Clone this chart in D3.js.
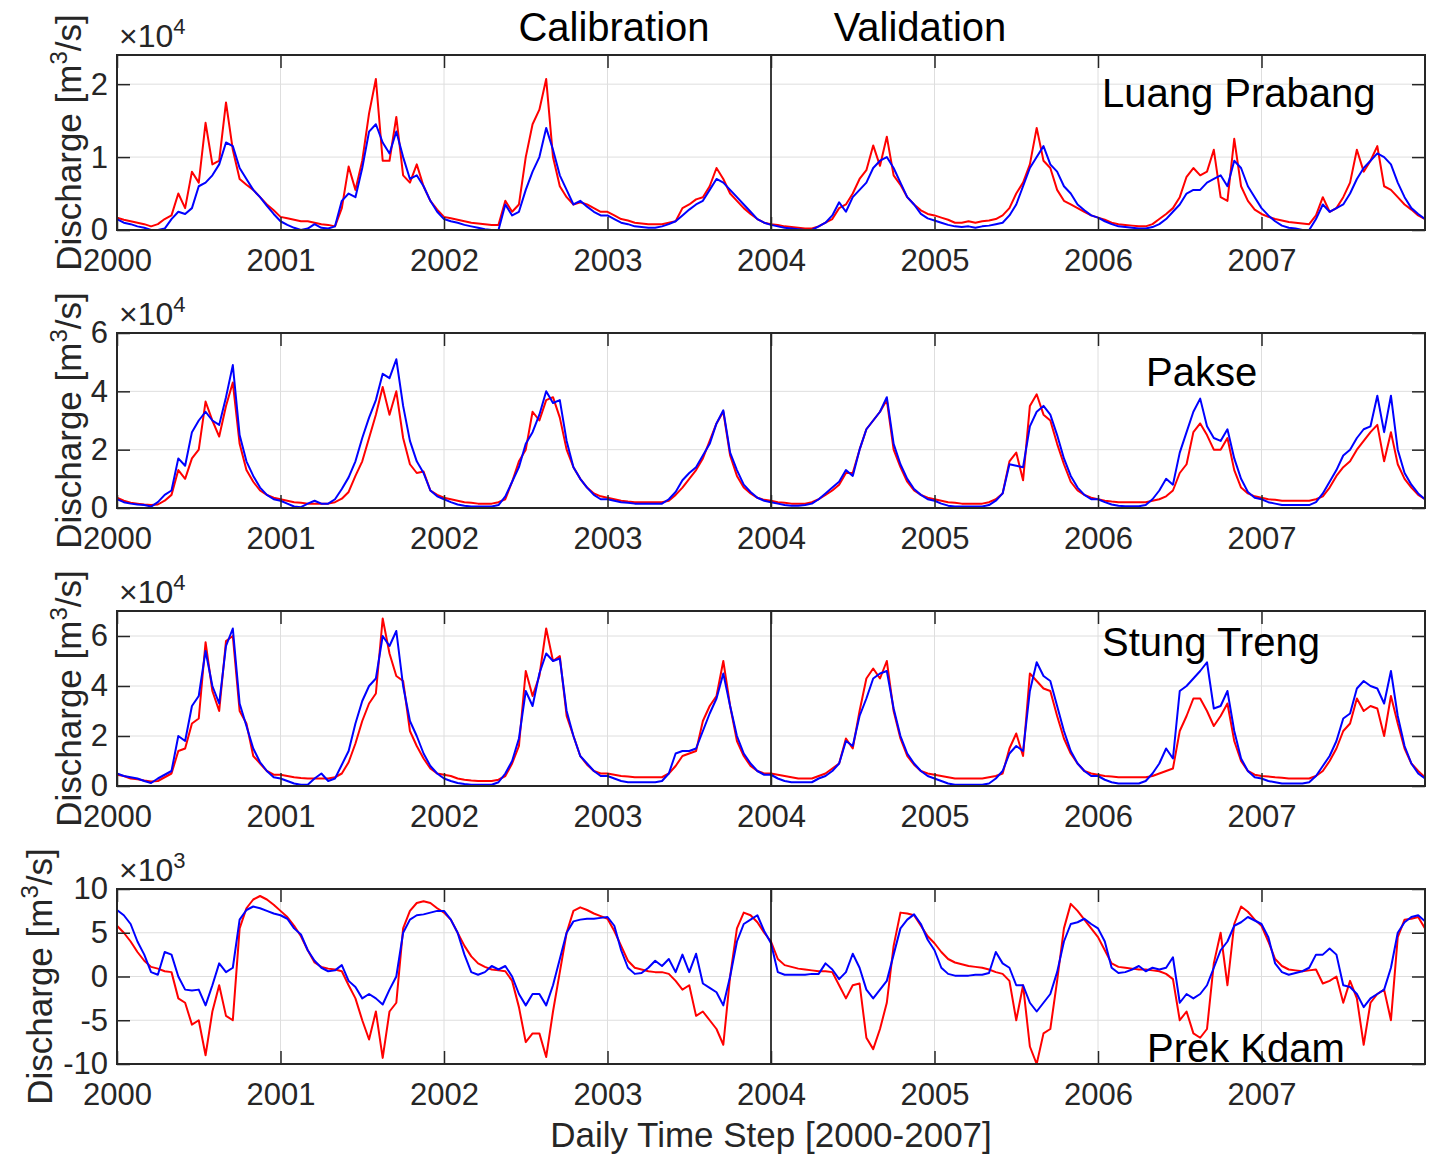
<!DOCTYPE html>
<html><head><meta charset="utf-8">
<script src="https://cdn.jsdelivr.net/npm/d3@7"></script>
<style>
html,body{margin:0;padding:0;background:#fff;}
svg{display:block;font-family:"Liberation Sans",Arial,Helvetica,sans-serif;}
</style></head><body>
<svg id="chart" width="1434" height="1154"></svg>
<script>
// ---------------- DATA ----------------
const years = [2000, 2001, 2002, 2003, 2004, 2005, 2006, 2007];
const stepsPerYear = 24; // semi-monthly samples
const stations = ["Luang Prabang", "Pakse", "Stung Treng", "Prek Kdam"];
const exponents = [4, 4, 4, 3];
const yTicks = [[0, 1, 2], [0, 2, 4, 6], [0, 2, 4, 6], [-10, -5, 0, 5, 10]];
const yDomains = [[0, 2.4], [0, 6], [0, 7], [-10, 10]];
const periodLabels = ["Calibration", "Validation"];
const splitYear = 2004;
const xAxisTitle = "Daily Time Step [2000-2007]";

// Luang Prabang (x10^4 m3/s)
const luangRed = [
0.17,0.14,0.12,0.10,0.08,0.05,0.08,0.15,0.20,0.50,0.30,0.80,0.65,1.47,0.90,0.95,1.75,1.10,0.70,0.62,0.55,0.45,0.35,0.27,
0.18,0.16,0.14,0.12,0.12,0.10,0.08,0.07,0.05,0.30,0.87,0.55,0.95,1.60,2.07,0.95,0.95,1.55,0.75,0.65,0.90,0.60,0.40,0.28,
0.18,0.16,0.14,0.12,0.10,0.09,0.08,0.07,0.07,0.40,0.25,0.35,1.00,1.45,1.65,2.07,1.00,0.60,0.45,0.35,0.38,0.35,0.30,0.25,
0.25,0.20,0.15,0.13,0.10,0.09,0.08,0.08,0.08,0.10,0.12,0.30,0.35,0.42,0.45,0.60,0.85,0.70,0.50,0.40,0.30,0.22,0.15,0.10,
0.08,0.07,0.05,0.04,0.03,0.02,0.02,0.05,0.10,0.15,0.30,0.35,0.50,0.70,0.82,1.16,0.88,1.28,0.75,0.62,0.45,0.35,0.27,0.22,
0.20,0.17,0.14,0.10,0.10,0.12,0.10,0.12,0.13,0.15,0.20,0.30,0.50,0.65,0.90,1.40,0.95,0.85,0.55,0.40,0.35,0.30,0.25,0.20,
0.17,0.14,0.10,0.08,0.07,0.06,0.05,0.05,0.08,0.15,0.22,0.30,0.45,0.73,0.85,0.75,0.80,1.10,0.45,0.40,1.25,0.60,0.40,0.28,
0.22,0.18,0.15,0.13,0.11,0.10,0.09,0.08,0.20,0.45,0.25,0.30,0.45,0.65,1.10,0.80,0.95,1.15,0.60,0.55,0.45,0.35,0.28,0.20,
0.15];
const luangBlue = [
0.15,0.10,0.08,0.05,0.03,0.00,0.00,0.02,0.15,0.25,0.22,0.30,0.60,0.65,0.75,0.90,1.20,1.15,0.85,0.70,0.55,0.45,0.33,0.22,
0.12,0.07,0.03,0.00,0.02,0.08,0.03,0.02,0.05,0.40,0.50,0.45,0.85,1.35,1.45,1.20,1.05,1.35,1.00,0.70,0.75,0.60,0.40,0.25,
0.15,0.12,0.10,0.07,0.05,0.03,0.01,0.00,0.00,0.35,0.20,0.25,0.55,0.80,1.00,1.40,1.10,0.75,0.55,0.35,0.40,0.32,0.25,0.20,
0.20,0.15,0.10,0.08,0.05,0.04,0.03,0.03,0.05,0.08,0.12,0.20,0.28,0.35,0.40,0.55,0.70,0.65,0.55,0.45,0.35,0.25,0.15,0.10,
0.07,0.05,0.03,0.02,0.01,0.00,0.00,0.05,0.10,0.20,0.38,0.25,0.45,0.55,0.65,0.85,0.95,1.00,0.85,0.65,0.45,0.35,0.22,0.16,
0.13,0.10,0.07,0.05,0.04,0.05,0.03,0.05,0.06,0.08,0.10,0.20,0.35,0.60,0.85,1.00,1.15,0.90,0.80,0.60,0.50,0.35,0.27,0.20,
0.17,0.12,0.08,0.05,0.04,0.03,0.02,0.02,0.04,0.08,0.15,0.25,0.35,0.50,0.55,0.55,0.65,0.70,0.75,0.60,0.95,0.85,0.60,0.45,
0.30,0.20,0.12,0.06,0.03,0.02,0.00,0.00,0.15,0.35,0.25,0.30,0.35,0.50,0.70,0.85,0.95,1.05,1.00,0.90,0.65,0.45,0.30,0.22,
0.15];

// Pakse (x10^4 m3/s)
const pakseRed = [
0.35,0.25,0.18,0.15,0.12,0.10,0.12,0.25,0.45,1.30,1.00,1.70,2.00,3.65,3.00,2.45,3.50,4.30,2.20,1.30,0.90,0.60,0.45,0.35,
0.30,0.25,0.20,0.18,0.15,0.15,0.15,0.15,0.20,0.32,0.55,1.10,1.60,2.40,3.20,4.15,3.20,4.00,2.40,1.50,1.20,1.25,0.60,0.45,
0.35,0.30,0.25,0.20,0.18,0.15,0.15,0.15,0.20,0.30,0.90,1.60,2.00,3.30,3.00,3.70,3.80,3.10,2.00,1.40,1.00,0.70,0.50,0.40,
0.35,0.30,0.25,0.22,0.20,0.20,0.20,0.20,0.20,0.25,0.45,0.70,1.00,1.30,1.70,2.30,2.90,3.30,1.80,1.10,0.70,0.50,0.35,0.28,
0.25,0.20,0.18,0.15,0.15,0.15,0.20,0.30,0.45,0.60,0.80,1.20,1.20,2.00,2.70,3.00,3.30,3.70,2.00,1.40,0.90,0.60,0.45,0.35,
0.30,0.25,0.20,0.18,0.15,0.15,0.15,0.15,0.20,0.30,0.50,1.60,1.90,0.95,3.50,3.90,3.20,3.00,2.20,1.50,0.90,0.60,0.45,0.35,
0.30,0.25,0.22,0.20,0.20,0.20,0.20,0.20,0.25,0.30,0.40,0.60,1.20,1.50,2.60,2.90,2.50,2.00,2.00,2.40,1.30,0.70,0.50,0.40,
0.35,0.30,0.28,0.25,0.25,0.25,0.25,0.25,0.30,0.40,0.70,1.10,1.40,1.60,2.00,2.30,2.60,2.85,1.60,2.60,1.50,1.00,0.70,0.45,
0.30];
const pakseBlue = [
0.30,0.20,0.15,0.12,0.10,0.05,0.20,0.45,0.60,1.70,1.45,2.60,3.00,3.30,3.00,2.85,3.80,4.90,2.50,1.60,1.10,0.70,0.45,0.30,
0.25,0.15,0.05,0.03,0.15,0.25,0.15,0.15,0.30,0.65,1.05,1.60,2.40,3.10,3.70,4.60,4.45,5.10,3.50,2.30,1.60,1.20,0.60,0.40,
0.30,0.20,0.12,0.08,0.05,0.05,0.05,0.05,0.10,0.40,0.90,1.40,2.20,2.60,3.20,4.00,3.60,3.70,2.30,1.40,1.00,0.70,0.45,0.30,
0.30,0.25,0.20,0.18,0.15,0.15,0.15,0.15,0.15,0.30,0.55,0.95,1.20,1.40,1.80,2.20,2.90,3.35,1.90,1.30,0.80,0.55,0.35,0.25,
0.20,0.15,0.10,0.08,0.08,0.10,0.15,0.30,0.50,0.70,0.90,1.30,1.10,2.00,2.70,3.00,3.30,3.80,2.20,1.50,1.00,0.65,0.45,0.30,
0.25,0.15,0.08,0.05,0.05,0.05,0.05,0.05,0.10,0.25,0.50,1.50,1.45,1.40,2.80,3.30,3.50,3.20,2.50,1.70,1.10,0.70,0.45,0.30,
0.30,0.20,0.12,0.08,0.06,0.06,0.06,0.10,0.30,0.60,1.00,0.80,1.90,2.60,3.30,3.75,2.80,2.40,2.30,2.70,1.70,1.00,0.55,0.35,
0.30,0.20,0.15,0.10,0.10,0.10,0.10,0.10,0.20,0.50,0.90,1.30,1.80,2.00,2.40,2.70,2.80,3.85,2.60,3.85,2.00,1.20,0.80,0.50,
0.30];

// Stung Treng (x10^4 m3/s)
const stungRed = [
0.45,0.40,0.30,0.27,0.22,0.18,0.20,0.35,0.50,1.40,1.50,2.50,2.70,5.75,3.80,3.00,5.80,6.00,3.00,2.50,1.20,0.90,0.60,0.45,
0.45,0.40,0.35,0.32,0.30,0.30,0.30,0.30,0.35,0.50,0.95,1.70,2.60,3.30,3.70,6.70,5.30,4.40,4.20,2.20,1.60,1.10,0.70,0.50,
0.45,0.40,0.30,0.25,0.22,0.20,0.20,0.20,0.25,0.40,0.90,1.60,4.60,3.60,4.40,6.30,5.00,5.20,2.80,2.00,1.20,0.85,0.60,0.50,
0.50,0.45,0.40,0.38,0.35,0.35,0.35,0.35,0.35,0.50,0.80,1.20,1.30,1.40,2.60,3.20,3.60,5.00,3.20,1.80,1.20,0.80,0.60,0.50,
0.50,0.45,0.40,0.35,0.30,0.30,0.30,0.40,0.50,0.70,0.90,1.90,1.50,3.00,4.30,4.70,4.30,5.00,3.00,1.90,1.20,0.85,0.60,0.50,
0.45,0.40,0.35,0.30,0.30,0.30,0.30,0.30,0.35,0.40,0.50,1.50,2.10,1.20,4.50,4.20,3.90,3.80,2.80,1.90,1.30,0.90,0.60,0.50,
0.45,0.40,0.38,0.35,0.35,0.35,0.35,0.35,0.40,0.50,0.60,0.70,2.20,2.80,3.50,3.50,3.00,2.40,2.80,3.30,1.80,1.00,0.60,0.45,
0.40,0.38,0.35,0.33,0.30,0.30,0.30,0.30,0.40,0.60,1.00,1.50,2.20,2.50,3.50,3.00,3.20,3.10,2.00,3.60,2.50,1.50,0.90,0.60,
0.35];
const stungBlue = [
0.50,0.40,0.35,0.30,0.20,0.12,0.30,0.45,0.60,2.00,1.80,3.20,3.60,5.40,4.00,3.30,5.60,6.30,3.30,2.40,1.50,0.95,0.60,0.35,
0.30,0.20,0.10,0.05,0.05,0.30,0.50,0.20,0.30,0.85,1.40,2.50,3.40,4.00,4.30,6.00,5.60,6.20,4.00,2.60,2.00,1.30,0.80,0.50,
0.30,0.20,0.12,0.08,0.05,0.05,0.05,0.05,0.15,0.50,1.00,1.90,3.80,3.20,4.50,5.30,5.00,5.10,3.00,2.00,1.20,0.90,0.60,0.40,
0.40,0.30,0.20,0.15,0.15,0.15,0.15,0.15,0.20,0.50,1.30,1.40,1.40,1.50,2.20,2.90,3.50,4.50,3.20,2.00,1.30,0.90,0.60,0.45,
0.45,0.30,0.20,0.15,0.15,0.15,0.15,0.30,0.40,0.60,0.90,1.80,1.60,2.80,3.50,4.30,4.50,4.60,3.10,2.00,1.30,0.90,0.60,0.40,
0.30,0.20,0.10,0.05,0.05,0.05,0.05,0.05,0.10,0.30,0.60,1.30,1.60,1.40,3.80,4.95,4.40,4.20,3.20,2.20,1.40,0.90,0.60,0.40,
0.40,0.25,0.15,0.10,0.10,0.10,0.10,0.20,0.50,0.90,1.50,1.10,3.80,4.00,4.30,4.60,4.95,3.10,3.20,3.80,2.20,1.10,0.60,0.35,
0.30,0.20,0.15,0.10,0.10,0.10,0.10,0.15,0.40,0.80,1.20,1.80,2.70,2.90,3.90,4.20,4.00,3.90,3.30,4.60,2.80,1.60,0.90,0.50,
0.30];

// Prek Kdam (x10^3 m3/s)
const prekRed = [
5.8,5.0,4.0,2.8,1.8,1.1,0.9,0.6,0.5,-2.5,-3.0,-5.5,-5.0,-9.0,-4.0,-1.0,-4.5,-5.0,5.5,7.8,8.8,9.2,8.8,8.2,
7.5,6.8,5.8,4.6,3.0,1.6,1.1,0.9,0.8,0.6,-1.0,-2.5,-5.0,-7.2,-4.0,-9.3,-4.0,-3.0,5.5,7.5,8.4,8.6,8.4,7.8,
7.3,6.5,5.0,3.5,2.3,1.5,1.1,0.8,0.7,0.6,-0.5,-3.5,-7.5,-6.5,-6.5,-9.2,-4.0,0.5,5.0,7.5,7.9,7.6,7.2,6.9,
6.6,5.2,3.5,1.8,1.0,0.8,0.6,0.5,0.5,0.3,-0.5,-1.5,-1.0,-4.5,-4.0,-5.0,-6.0,-7.8,0.0,5.5,7.3,7.0,6.2,5.0,
4.0,2.0,1.3,1.1,0.9,0.8,0.7,0.6,0.6,0.5,-1.0,-2.5,-1.0,-0.8,-7.0,-8.3,-6.0,-3.0,3.5,7.3,7.2,7.0,5.8,4.6,
3.8,2.8,2.0,1.6,1.4,1.2,1.1,1.0,0.8,0.5,0.3,-0.5,-5.0,-1.0,-8.0,-10.0,-6.5,-6.0,-0.5,5.5,8.3,7.5,6.5,5.5,
4.5,3.0,1.5,1.1,1.0,0.9,0.8,0.8,0.7,0.6,0.3,-0.3,-5.0,-4.0,-6.5,-7.0,-6.0,1.5,5.0,-1.0,6.0,8.0,7.4,6.5,
5.8,4.0,2.0,1.2,0.8,0.7,0.6,0.7,0.8,-0.8,-0.5,0.0,-3.0,-0.5,-2.5,-7.8,-3.0,-2.0,-1.5,-5.0,4.5,6.5,6.6,6.8,
5.5];
const prekBlue = [
7.6,7.0,6.0,4.0,2.5,0.5,0.2,2.8,2.5,0.0,-1.5,-1.6,-1.5,-3.3,-1.0,1.5,0.5,1.0,6.5,7.6,8.0,7.8,7.5,7.2,
7.0,6.6,5.5,4.8,3.0,1.8,1.0,0.6,0.7,1.3,-0.5,-1.2,-2.5,-2.0,-2.5,-3.2,-1.5,0.0,5.0,6.5,7.0,7.1,7.3,7.5,
7.5,6.5,5.0,2.5,0.5,0.2,0.5,1.2,0.8,1.2,0.0,-2.0,-3.3,-2.0,-2.0,-3.3,-1.0,2.0,5.0,6.3,6.5,6.6,6.6,6.7,
6.8,5.8,3.0,1.0,0.3,0.4,1.0,1.8,1.2,2.0,0.5,2.5,0.5,2.6,-0.8,-1.3,-1.8,-3.3,0.0,4.0,6.0,6.5,7.0,5.2,
3.8,0.5,0.2,0.2,0.2,0.2,0.3,0.3,1.5,0.8,-0.3,0.5,2.6,1.0,-1.5,-2.5,-1.5,-0.5,2.5,5.5,6.5,7.1,6.0,4.2,
3.0,1.0,0.3,0.1,0.1,0.1,0.2,0.2,0.4,2.8,1.5,1.0,-1.0,-1.0,-3.0,-4.0,-3.0,-2.0,0.5,4.0,6.0,6.2,6.6,6.0,
5.5,4.0,1.0,0.4,0.5,0.8,1.2,0.6,1.0,0.8,1.0,2.2,-3.0,-2.0,-2.5,-2.0,-1.0,1.0,3.0,4.0,5.8,6.2,6.8,6.4,
6.0,4.5,1.5,0.5,0.2,0.4,0.6,1.0,2.5,2.5,3.2,2.5,-1.0,-1.2,-2.0,-3.5,-2.5,-2.0,-1.5,1.0,5.0,6.2,6.8,7.0,
6.3];

const redSeries = [luangRed, pakseRed, stungRed, prekRed];
const blueSeries = [luangBlue, pakseBlue, stungBlue, prekBlue];

// ---------------- LAYOUT ----------------
const plotLeft = 117, plotRight = 1425;
const firstTop = 55, panelStep = 278, panelH = 175;
const tickLen = 13;
const textColor = "#262626";
const labelPos = [
  {x: 1102, y: 107}, {x: 1146, y: 386}, {x: 1102, y: 656}, {x: 1147, y: 1062}
];
const yLabelX = [81, 81, 81, 52];

const svg = d3.select("#chart");
const x = d3.scaleLinear().domain([years[0], years[years.length - 1] + 1]).range([plotLeft, plotRight]);
const nPts = luangRed.length;
const dates = d3.range(nPts).map(i => years[0] + i / stepsPerYear);

stations.forEach((name, p) => {
  const top = firstTop + p * panelStep, bottom = top + panelH;
  const y = d3.scaleLinear().domain(yDomains[p]).range([bottom, top]);
  const g = svg.append("g");

  // grid
  g.append("g").selectAll("line").data(years.slice(1)).join("line")
    .attr("x1", d => x(d)).attr("x2", d => x(d)).attr("y1", top).attr("y2", bottom)
    .attr("stroke", "#dedede").attr("stroke-width", 1);
  g.append("g").selectAll("line").data(yTicks[p].filter(t => t > yDomains[p][0] && t < yDomains[p][1])).join("line")
    .attr("x1", plotLeft).attr("x2", plotRight).attr("y1", d => y(d)).attr("y2", d => y(d))
    .attr("stroke", "#dedede").attr("stroke-width", 1);

  // clip
  const cid = "clip" + p;
  svg.append("clipPath").attr("id", cid).append("rect")
    .attr("x", plotLeft).attr("y", top).attr("width", plotRight - plotLeft).attr("height", panelH);

  const line = d3.line().x((d, i) => x(dates[i])).y(d => y(d));
  const lg = g.append("g").attr("clip-path", `url(#${cid})`);
  lg.append("path").datum(redSeries[p]).attr("d", line)
    .attr("fill", "none").attr("stroke", "#ff0000").attr("stroke-width", 2).attr("stroke-linejoin", "round");
  lg.append("path").datum(blueSeries[p]).attr("d", line)
    .attr("fill", "none").attr("stroke", "#0000ff").attr("stroke-width", 2).attr("stroke-linejoin", "round");

  // split line
  g.append("line").attr("x1", x(splitYear)).attr("x2", x(splitYear)).attr("y1", top).attr("y2", bottom)
    .attr("stroke", "#000").attr("stroke-width", 1.5);

  // axes
  const fmtYear = d3.format("d");
  const axB = g.append("g").attr("transform", `translate(0,${bottom})`)
    .call(d3.axisBottom(x).tickValues(years).tickFormat(fmtYear).tickSizeInner(-tickLen).tickSizeOuter(0).tickPadding(19));
  const axT = g.append("g").attr("transform", `translate(0,${top})`)
    .call(d3.axisTop(x).tickValues(years).tickFormat("").tickSizeInner(-tickLen).tickSizeOuter(0));
  const axL = g.append("g").attr("transform", `translate(${plotLeft},0)`)
    .call(d3.axisLeft(y).tickValues(yTicks[p]).tickFormat(d => String(d)).tickSizeInner(-tickLen).tickSizeOuter(0).tickPadding(9));
  const axR = g.append("g").attr("transform", `translate(${plotRight},0)`)
    .call(d3.axisRight(y).tickValues(yTicks[p]).tickFormat("").tickSizeInner(-tickLen).tickSizeOuter(0));
  [axB, axT, axL, axR].forEach(a => {
    a.select(".domain").remove();
    a.selectAll(".tick line").attr("stroke", textColor).attr("stroke-width", 1.5);
    a.selectAll(".tick text").attr("fill", textColor).style("font-size", "31px")
      .style("font-family", '"Liberation Sans",Arial,Helvetica,sans-serif');
  });

  // frame
  g.append("rect").attr("x", plotLeft).attr("y", top).attr("width", plotRight - plotLeft).attr("height", panelH)
    .attr("fill", "none").attr("stroke", textColor).attr("stroke-width", 2);

  // exponent
  const ex = g.append("text").attr("x", plotLeft + 2).attr("y", top - 8).attr("fill", textColor)
    .style("font-size", "32px");
  ex.append("tspan").text("\u00d710");
  ex.append("tspan").attr("dy", -13).style("font-size", "22px").text(exponents[p]);

  // y label
  const yl = g.append("text").attr("transform", `translate(${yLabelX[p]},${(top + bottom) / 2}) rotate(-90)`)
    .attr("text-anchor", "middle").attr("fill", textColor).style("font-size", "35px");
  yl.append("tspan").text("Discharge [m");
  yl.append("tspan").attr("dy", -14).style("font-size", "24px").text("3");
  yl.append("tspan").attr("dy", 14).text("/s]");

  // station name
  g.append("text").attr("x", labelPos[p].x).attr("y", labelPos[p].y).attr("fill", "#000")
    .style("font-size", "40px").text(name);
});

// period titles
svg.append("text").attr("x", 614).attr("y", 41).attr("text-anchor", "middle").attr("fill", "#000")
  .style("font-size", "40px").text(periodLabels[0]);
svg.append("text").attr("x", 920).attr("y", 41).attr("text-anchor", "middle").attr("fill", "#000")
  .style("font-size", "40px").text(periodLabels[1]);

// x axis title
svg.append("text").attr("x", 771).attr("y", 1147).attr("text-anchor", "middle").attr("fill", textColor)
  .style("font-size", "35px").text(xAxisTitle);
</script>
</body></html>
